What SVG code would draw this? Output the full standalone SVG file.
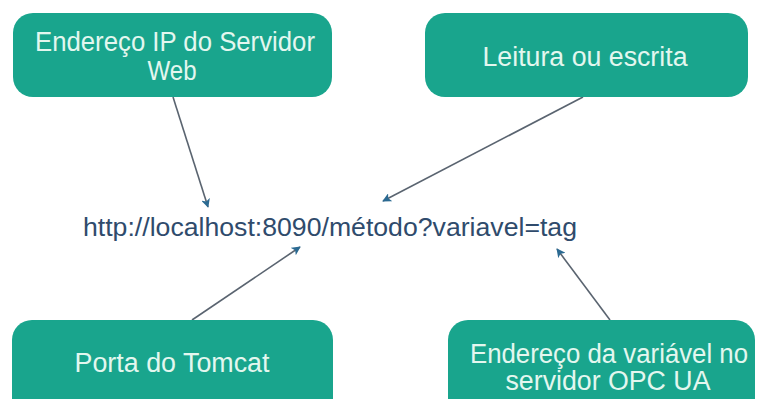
<svg xmlns="http://www.w3.org/2000/svg" width="760" height="399" viewBox="0 0 760 399">
  <defs>
    <style>
      .box { fill: #19a58d; }
      .label { font-family: "Liberation Sans", Arial, sans-serif; font-size: 27px; fill: #e3f7ef; text-anchor: middle; }
      .url { font-family: "Liberation Sans", Arial, sans-serif; font-size: 25px; fill: #2f4b6c; }
      .link { stroke: #5a6470; stroke-width: 1.6; fill: none; marker-end: url(#head); }
    </style>
    <marker id="head" viewBox="0 0 10 10" refX="9" refY="5" markerWidth="9" markerHeight="9" markerUnits="userSpaceOnUse" orient="auto">
      <path d="M0,0 L10,5 L0,10 L2.5,5 z" fill="#2b6a92"/>
    </marker>
  </defs>
  <rect width="760" height="399" fill="#ffffff"/>

  <g id="connectors">
    <line class="link" x1="173" y1="97" x2="208" y2="207"/>
    <line class="link" x1="583" y1="97" x2="383" y2="201"/>
    <line class="link" x1="192" y1="320" x2="300" y2="247"/>
    <line class="link" x1="610" y1="320" x2="557" y2="249"/>
  </g>

  <g id="node-ip">
    <rect class="box" x="13" y="13" width="319" height="84" rx="20"/>
    <text class="label" x="175" y="51" textLength="280" lengthAdjust="spacingAndGlyphs">Endereço IP do Servidor</text>
    <text class="label" x="172" y="80" textLength="49" lengthAdjust="spacingAndGlyphs">Web</text>
  </g>

  <g id="node-method">
    <rect class="box" x="425" y="13" width="323" height="84" rx="20"/>
    <text class="label" x="585" y="66" textLength="205" lengthAdjust="spacingAndGlyphs">Leitura ou escrita</text>
  </g>

  <g id="node-url">
    <text class="url" x="83" y="236" textLength="494" lengthAdjust="spacingAndGlyphs">http://localhost:8090/método?variavel=tag</text>
  </g>

  <g id="node-port">
    <rect class="box" x="12" y="320" width="321" height="100" rx="20"/>
    <text class="label" x="172" y="372" textLength="195" lengthAdjust="spacingAndGlyphs">Porta do Tomcat</text>
  </g>

  <g id="node-var">
    <rect class="box" x="448" y="320" width="307" height="100" rx="20"/>
    <text class="label" x="609" y="363" textLength="278" lengthAdjust="spacingAndGlyphs">Endereço da variável no</text>
    <text class="label" x="608" y="390" textLength="205" lengthAdjust="spacingAndGlyphs">servidor OPC UA</text>
  </g>
</svg>
